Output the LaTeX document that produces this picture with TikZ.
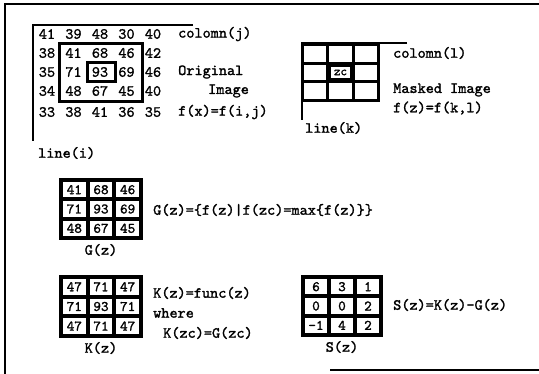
\documentclass[tikz,border=0pt]{standalone}
\usepackage{fontspec}
\newfontfamily\scan{lmmono10-regular.otf}[FakeBold=1.5]
\newcommand{\mkgrid}[6]{%
  \fill (#2,#3) rectangle (#4,#5);
  \pgfmathsetmacro\cw{((#4)-(#2)-16)/3}
  \pgfmathsetmacro\ch{((#5)-(#3)-16)/3}
  \foreach \vals [count=\ri] in {#6} {
    \foreach \v [count=\ci] in \vals {
      \node[cell, minimum width=\cw pt, minimum height=\ch pt] (#1\ri\ci)
        at ({#2+4+\cw/2+(\ci-1)*(\cw+4)}, {#3+4+\ch/2+(\ri-1)*(\ch+4)}) {\v};
    }
  }
}
\begin{document}
\begin{tikzpicture}[x=1pt,y=-1pt,
  lbl/.style={anchor=west, inner sep=0pt, font=\scan\fontsize{15.5}{18}\selectfont},
  ctr/.style={inner sep=0pt, font=\scan\fontsize{15.5}{18}\selectfont},
  num/.style={inner sep=0pt, font=\scan\fontsize{15.5}{18}\selectfont},
  cell/.style={fill=white, inner sep=0pt, font=\scan\fontsize{14.5}{16}\selectfont},
  frameline/.style={line width=2.5pt},
  axis/.style={line width=1.6pt},
  thickbox/.style={line width=3pt}]
\useasboundingbox (0,0) rectangle (539,374);
% frame
\draw[frameline] (5,374) -- (5,4) -- (539,4);
\draw[frameline] (330,370) -- (539,370);
% original image
\draw[axis] (193,25) -- (33,25) -- (33,141);
\foreach \y/\vals [count=\ri] in {34/{41,39,48,30,40},53/{38,41,68,46,42},72/{35,71,93,69,46},91/{34,48,67,45,40},112/{33,38,41,36,35}} {
  \foreach \v [count=\ci] in \vals {
    \node[num] (o\ri\ci) at ({47+26.5*(\ci-1)},\y) {\v};
  }
}
\draw[thickbox] (59,44) rectangle (142,102);
\draw[thickbox] (87,63) rectangle (115,82);
\node[lbl] (colj) at (178,34) {colomn(j)};
\node[lbl] (orig) at (178,72) {Original};
\node[lbl] (img) at (208,91) {Image};
\node[lbl] (fx) at (178,112) {f(x)=f(i,j)};
\node[lbl] (linei) at (38,153) {line(i)};
% masked image
\draw[axis] (407,43) -- (302,43) -- (302,120);
\fill (301,43) rectangle (380,102);
\foreach \ya/\yb [count=\ri] in {46/61.7,64.7/80.3,83.3/99} {
  \foreach \xa/\xb [count=\ci] in {304/326.3,329.3/351.7,354.7/377} {
    \fill[white] (\xa,\ya) rectangle (\xb,\yb);
  }
}
\fill (329.3,64.7) rectangle (351.7,80.3);
\node[fill=white, inner sep=0pt, minimum width=18.4pt, minimum height=11.6pt,
  font=\scan\fontsize{12.5}{14}\selectfont] (zc) at (340.5,72.5) {zc};
\node[lbl] (coll) at (393,53) {colomn(l)};
\node[lbl] (masked) at (393,90) {Masked Image};
\node[lbl] (fz) at (393,108) {f(z)=f(k,l)};
\node[lbl] (linek) at (305,128) {line(k)};
% G grid
\mkgrid{g}{59}{178}{143}{240}{{41,68,46},{71,93,69},{48,67,45}}
\node[ctr] (gl) at (101,250) {G(z)};
\node[lbl] (geq) at (153,210) {G(z)=\{f(z)|f(zc)=max\{f(z)\}\}};
% K grid
\mkgrid{k}{59}{275}{143}{338}{{47,71,47},{71,93,71},{47,71,47}}
\node[ctr] (kl) at (101,348) {K(z)};
\node[lbl] (keq) at (153,293) {K(z)=func(z)};
\node[lbl] (where) at (153,313) {where};
\node[lbl] (kzc) at (163,333) {K(zc)=G(zc)};
% S grid
\mkgrid{s}{301}{275}{383}{337}{{6,3,1},{0,0,2},{-1,4,2}}
\node[ctr] (sl) at (342,347) {S(z)};
\node[lbl] (seq) at (393,305) {S(z)=K(z)-G(z)};
\end{tikzpicture}
\end{document}
